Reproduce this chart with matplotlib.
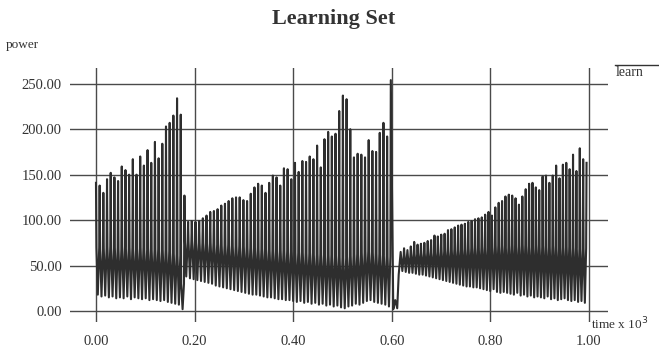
import numpy as np
import matplotlib.pyplot as plt
from matplotlib.lines import Line2D

# =========================
# data (time in units of 10^3, power)
# =========================
# first run: from t=0 up to the big spike at t~0.598
seg_a_span = (0.0, 0.598)
peaks_a = [141, 138, 130, 145, 152, 147, 143, 159, 155, 150, 167, 150,
           170, 160, 177, 163, 186, 168, 184, 203, 207, 215, 234, 216,
           127, 98, 99, 98, 99, 102, 105, 109, 110, 112, 116, 118,
           121, 124, 125, 125, 122, 121, 129, 136, 140, 138, 130, 141,
           149, 147, 138, 157, 156, 145, 163, 153, 165, 164, 170, 167,
           182, 158, 189, 197, 192, 195, 220, 237, 233, 200, 169, 173,
           172, 169, 188, 176, 175, 196, 207, 192, 254]
troughs_a = [18, 16, 17, 15, 16, 14, 15, 14, 16, 13, 15, 14,
             13, 14, 12, 13, 12, 11, 12, 10, 9, 8, 7, 2,
             38, 36, 35, 34, 33, 32, 31, 30, 28, 27, 26, 25,
             24, 23, 22, 21, 20, 19, 18, 18, 17, 16, 15, 15,
             14, 13, 13, 12, 12, 11, 10, 11, 9, 10, 8, 9,
             7, 8, 6, 7, 5, 6, 4, 3, 5, 6, 8, 7,
             9, 11, 12, 10, 9, 8, 7, 5]
# top of the dark band
mids_a = [70, 68, 69, 71, 69, 70, 68, 71, 69, 70, 68, 69,
          70, 68, 69, 67, 68, 66, 67, 66, 64, 63, 61, 30,
          78, 76, 77, 76, 75, 76, 74, 75, 73, 74, 72, 73,
          72, 71, 72, 70, 71, 70, 69, 70, 68, 69, 68, 67,
          68, 66, 67, 66, 65, 66, 64, 65, 64, 63, 64, 62,
          63, 62, 61, 62, 60, 61, 59, 58, 60, 61, 63, 62,
          64, 66, 65, 64, 63, 62, 61, 60]

# collapse after the spike
gap_t = [0.603, 0.607, 0.611, 0.614]
gap_v = [2, 12, 3, 40]

# second run: after the collapse up to t=1.0
seg_b_span = (0.618, 0.995)
peaks_b = [65, 69, 67, 71, 76, 73, 74, 75, 77, 78, 83, 82,
           84, 85, 89, 90, 92, 94, 95, 96, 98, 99, 101, 102,
           103, 106, 109, 105, 114, 119, 121, 126, 128, 127, 124, 117,
           126, 134, 140, 141, 136, 133, 148, 149, 141, 149, 160, 146,
           161, 163, 156, 172, 154, 179, 167, 163]
troughs_b = [44, 43, 42, 42, 41, 40, 40, 39, 38, 37, 36, 35,
             34, 33, 32, 31, 30, 29, 28, 27, 27, 26, 26, 25,
             24, 23, 22, 24, 21, 20, 21, 20, 19, 18, 20, 17,
             18, 16, 17, 15, 16, 15, 14, 16, 13, 14, 12, 13,
             14, 12, 11, 12, 10, 11, 9]
mids_b = [60, 62, 61, 63, 63, 64, 63, 64, 65, 64, 66, 65,
          66, 67, 66, 68, 67, 68, 69, 68, 69, 70, 69, 70,
          71, 70, 71, 70, 72, 71, 72, 71, 72, 73, 71, 72,
          73, 72, 71, 72, 73, 71, 72, 70, 71, 72, 70, 71,
          70, 71, 69, 70, 69, 68, 69]

xticks = [0.0, 0.2, 0.4, 0.6, 0.8, 1.0]
yticks = [0, 50, 100, 150, 200, 250]


def build(span, peaks, mids, troughs):
    # one cycle: peak -> band top -> trough -> band top -> next peak
    tp = np.linspace(span[0], span[1], len(peaks))
    d = tp[1] - tp[0]
    ts, vs = [], []
    for i in range(len(peaks) - 1):
        ts += [tp[i], tp[i] + 0.12 * d, tp[i] + 0.5 * d, tp[i] + 0.88 * d]
        vs += [peaks[i], mids[i], troughs[i], mids[i]]
    ts.append(tp[-1])
    vs.append(peaks[-1])
    return ts, vs


ta, va = build(seg_a_span, peaks_a, mids_a, troughs_a)
tb, vb = build(seg_b_span, peaks_b, mids_b, troughs_b)
t = np.array(ta + gap_t + tb)
v = np.array(va + gap_v + vb)

# =========================
# plot
# =========================
plt.rcParams['font.family'] = ['Liberation Serif', 'DejaVu Serif']
ink = '#333333'

fig = plt.figure(figsize=(6.59, 3.47), dpi=100)
ax = fig.add_axes([0.1062, 0.072, 0.8164, 0.732])

ax.plot(t, v, color='#2e2e2e', lw=1.5)

ax.set_xlim(-0.0527, 1.0385)
ax.set_ylim(-12.1, 267.3)
ax.set_xticks(xticks)
ax.set_yticks(yticks)
ax.set_xticklabels([f"{x:.2f}" for x in xticks])
ax.set_yticklabels([f"{y:.2f}" for y in yticks])
ax.tick_params(length=0, colors=ink, labelsize=10.5)
ax.tick_params(axis='y', pad=6)
ax.tick_params(axis='x', pad=9)
ax.grid(True, color='#4a4a4a', lw=1.0)
ax.set_axisbelow(True)
for s in ax.spines.values():
    s.set_visible(False)

fig.text(0.506, 0.945, "Learning Set", ha='center', va='center',
         fontsize=16, fontweight='bold', color=ink)
fig.text(0.008, 0.870, "power", ha='left', va='center', fontsize=9.5, color=ink)
fig.text(0.897, 0.066, "time x 10$^3$", ha='left', va='center',
         fontsize=9.5, color=ink)
fig.text(0.934, 0.790, "learn", ha='left', va='center', fontsize=10, color=ink)
fig.add_artist(Line2D([0.933, 1.0], [0.812, 0.812], transform=fig.transFigure,
                      color=ink, lw=1.0))

fig.savefig("out.png", dpi=100)
